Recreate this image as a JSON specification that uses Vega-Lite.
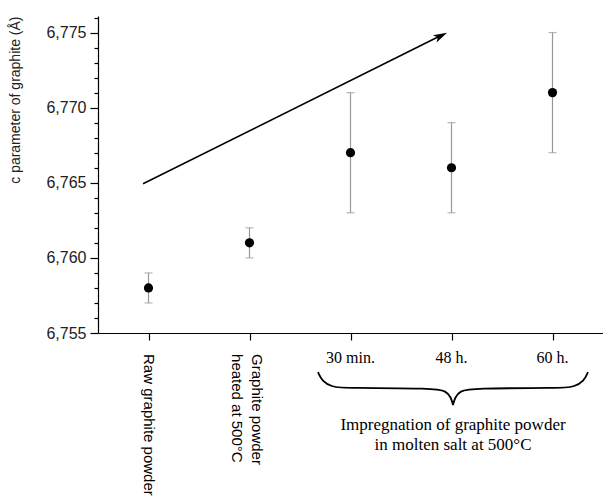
{
  "$schema": "https://vega.github.io/schema/vega-lite/v6.json",
  "width": 505,
  "height": 317,
  "autosize": {"type": "none"},
  "padding": {"left": 98, "top": 16, "right": 0, "bottom": 163},
  "config": {"view": {"stroke": null}},
  "datasets": {
    "pts": [
      {"pos": 1, "c": 6.758, "lo": 6.757, "hi": 6.759},
      {"pos": 2, "c": 6.761, "lo": 6.760, "hi": 6.762},
      {"pos": 3, "c": 6.767, "lo": 6.763, "hi": 6.771},
      {"pos": 4, "c": 6.766, "lo": 6.763, "hi": 6.769},
      {"pos": 5, "c": 6.771, "lo": 6.767, "hi": 6.775}
    ],
    "arrow": [
      {"pos": 0.946, "c": 6.76493},
      {"pos": 3.90, "c": 6.77482}
    ],
    "head": [{"pos": 3.895, "c": 6.77478}],
    "vlabels": [
      {"pos": 1, "c": 6.7536, "t": "Raw graphite powder"},
      {"pos": 2.07, "c": 6.7536, "t": "Graphite powder\nheated at 500°C"}
    ],
    "hlabels": [
      {"pos": 3, "c": 6.75333, "t": "30 min."},
      {"pos": 4, "c": 6.75333, "t": "48 h."},
      {"pos": 5, "c": 6.75333, "t": "60 h."}
    ],
    "note": [{"pos": 4.015, "c": 6.74887, "t": "Impregnation of graphite powder\nin molten salt at 500°C"}],
    "brace": [
      {"half": "L", "k": 1, "pos": 2.678, "c": 6.7524},
      {"half": "L", "k": 2, "pos": 2.718, "c": 6.7518},
      {"half": "L", "k": 3, "pos": 2.817, "c": 6.7514},
      {"half": "L", "k": 4, "pos": 2.946, "c": 6.75133},
      {"half": "L", "k": 5, "pos": 3.837, "c": 6.75133},
      {"half": "L", "k": 6, "pos": 3.946, "c": 6.75113},
      {"half": "L", "k": 7, "pos": 3.995, "c": 6.75073},
      {"half": "L", "k": 8, "pos": 4.015, "c": 6.7502},
      {"half": "R", "k": 1, "pos": 5.351, "c": 6.7524},
      {"half": "R", "k": 2, "pos": 5.312, "c": 6.7518},
      {"half": "R", "k": 3, "pos": 5.213, "c": 6.7514},
      {"half": "R", "k": 4, "pos": 5.084, "c": 6.75133},
      {"half": "R", "k": 5, "pos": 4.193, "c": 6.75133},
      {"half": "R", "k": 6, "pos": 4.084, "c": 6.75113},
      {"half": "R", "k": 7, "pos": 4.035, "c": 6.75073},
      {"half": "R", "k": 8, "pos": 4.015, "c": 6.7502}
    ]
  },
  "layer": [
    {
      "data": {"name": "pts"},
      "mark": {"type": "errorbar", "ticks": {"size": 8}, "color": "#999999", "thickness": 1.2},
      "encoding": {
        "x": {"field": "pos", "type": "quantitative", "scale": {"domain": [0.5, 5.5], "nice": false, "zero": false},
          "axis": {"values": [1, 2, 3, 4, 5], "labels": false, "title": null, "grid": false, "domainColor": "#000", "tickColor": "#000", "tickSize": 7, "domainWidth": 1.2, "tickWidth": 1.2}},
        "y": {"field": "lo", "type": "quantitative", "scale": {"domain": [6.755, 6.7761], "nice": false, "zero": false},
          "axis": {
            "title": "c parameter of graphite (Å)",
            "titleFont": "Liberation Sans", "titleFontSize": 14, "titleFontWeight": "normal", "titleColor": "#222",
            "titleAnchor": "end", "titlePadding": 23,
            "grid": false,
            "tickCount": 40,
            "values": [6.755, 6.756, 6.757, 6.758, 6.759, 6.76, 6.761, 6.762, 6.763, 6.764, 6.765, 6.766, 6.767, 6.768, 6.769, 6.77, 6.771, 6.772, 6.773, 6.774, 6.775, 6.776],
            "labelOverlap": false,
            "labelExpr": "round(datum.value*1000)%5==0 ? replace(format(datum.value, '.3f'), '.', ',') : ''",
            "tickSize": {"condition": {"test": "round(datum.value*1000)%5==0", "value": 8}, "value": 4},
            "labelFont": "Liberation Sans", "labelFontSize": 16, "labelColor": "#222", "labelPadding": 4,
            "domainColor": "#000", "tickColor": "#000", "domainWidth": 1.2, "tickWidth": 1.2
          }},
        "y2": {"field": "hi"}
      }
    },
    {
      "data": {"name": "pts"},
      "mark": {"type": "point", "filled": true, "color": "#000", "size": 85, "opacity": 1},
      "encoding": {
        "x": {"field": "pos", "type": "quantitative"},
        "y": {"field": "c", "type": "quantitative"}
      }
    },
    {
      "data": {"name": "arrow"},
      "mark": {"type": "line", "color": "#000", "strokeWidth": 1.6},
      "encoding": {
        "x": {"field": "pos", "type": "quantitative"},
        "y": {"field": "c", "type": "quantitative"}
      }
    },
    {
      "data": {"name": "head"},
      "mark": {"type": "point", "filled": true, "color": "#000", "opacity": 1, "size": 190, "angle": -26.4, "shape": "M-1,-0.6L1,0L-1,0.6L-0.5,0Z"},
      "encoding": {
        "x": {"field": "pos", "type": "quantitative"},
        "y": {"field": "c", "type": "quantitative"}
      }
    },
    {
      "data": {"name": "brace"},
      "mark": {"type": "line", "color": "#000", "strokeWidth": 1.8, "interpolate": "basis"},
      "encoding": {
        "x": {"field": "pos", "type": "quantitative"},
        "y": {"field": "c", "type": "quantitative"},
        "detail": {"field": "half"},
        "order": {"field": "k"}
      }
    },
    {
      "data": {"name": "vlabels"},
      "mark": {"type": "text", "angle": 90, "align": "left", "baseline": "middle", "font": "Liberation Sans", "fontSize": 15, "lineHeight": 20, "lineBreak": "\n", "color": "#000"},
      "encoding": {
        "x": {"field": "pos", "type": "quantitative"},
        "y": {"field": "c", "type": "quantitative"},
        "text": {"field": "t"}
      }
    },
    {
      "data": {"name": "hlabels"},
      "mark": {"type": "text", "align": "center", "baseline": "middle", "font": "Liberation Serif", "fontSize": 16, "color": "#000"},
      "encoding": {
        "x": {"field": "pos", "type": "quantitative"},
        "y": {"field": "c", "type": "quantitative"},
        "text": {"field": "t"}
      }
    },
    {
      "data": {"name": "note"},
      "mark": {"type": "text", "align": "center", "baseline": "middle", "font": "Liberation Serif", "fontSize": 17, "lineHeight": 20, "lineBreak": "\n", "color": "#000"},
      "encoding": {
        "x": {"field": "pos", "type": "quantitative"},
        "y": {"field": "c", "type": "quantitative"},
        "text": {"field": "t"}
      }
    }
  ]
}
